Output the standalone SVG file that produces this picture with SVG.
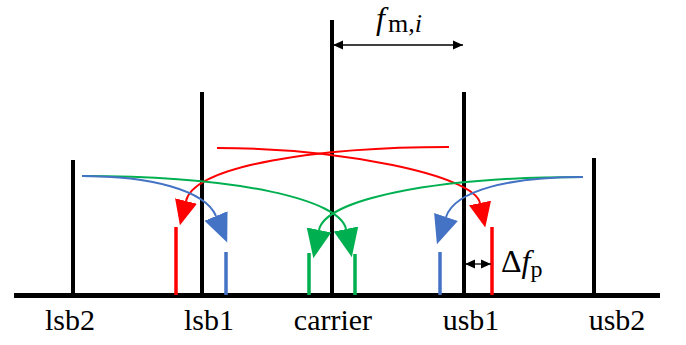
<svg xmlns="http://www.w3.org/2000/svg" width="686" height="345" viewBox="0 0 686 345">
<style>
.blk{stroke:#000;stroke-width:4;fill:none}
.red{stroke:#FF0000;fill:none}
.grn{stroke:#00B050;fill:none}
.blu{stroke:#4472C4;fill:none}
.bar{stroke-width:3.5}
.crv{stroke-width:2}
.dim{stroke:#000;stroke-width:1.3;fill:none}
.lbl{font-size:30px;fill:#000;text-anchor:middle}
.math{fill:#000}
</style>
<defs>
<marker id="ar" markerUnits="userSpaceOnUse" markerWidth="30" markerHeight="30" refX="0" refY="10" orient="auto" viewBox="0 0 24 20"><path d="M0,1 L20,10 L0,19 z" fill="#FF0000"/></marker>
<marker id="ag" markerUnits="userSpaceOnUse" markerWidth="30" markerHeight="30" refX="0" refY="10" orient="auto" viewBox="0 0 24 20"><path d="M0,0 L23,10 L0,20 z" fill="#00B050"/></marker>
<marker id="ab" markerUnits="userSpaceOnUse" markerWidth="30" markerHeight="30" refX="0" refY="10" orient="auto" viewBox="0 0 24 20"><path d="M0,0 L23,10 L0,20 z" fill="#4472C4"/></marker>
<marker id="ak" markerUnits="userSpaceOnUse" markerWidth="10" markerHeight="10" refX="9" refY="4.5" orient="auto-start-reverse" viewBox="0 0 9 9"><path d="M0,0.5 L9,4.5 L0,8.5 z" fill="#000"/></marker>
</defs>
<g id="axis"><line x1="14" y1="295.5" x2="660" y2="295.5" stroke="#000" stroke-width="5"/></g>
<g id="lsb2"><line class="blk" x1="73" y1="160" x2="73" y2="295"/><text class="lbl" x="70" y="330" font-family="Liberation Serif">lsb2</text></g>
<g id="lsb1"><line class="blk" x1="202" y1="92" x2="202" y2="295"/><text class="lbl" x="209" y="330" font-family="Liberation Serif">lsb1</text></g>
<g id="carrier"><line class="blk" x1="332" y1="20" x2="332" y2="295"/><text class="lbl" x="333" y="330" font-family="Liberation Serif">carrier</text></g>
<g id="usb1"><line class="blk" x1="464" y1="92" x2="464" y2="295"/><text class="lbl" x="471" y="330" font-family="Liberation Serif">usb1</text></g>
<g id="usb2"><line class="blk" x1="594" y1="158" x2="594" y2="295"/><text class="lbl" x="617" y="330" font-family="Liberation Serif">usb2</text></g>
<g id="shifted">
<line class="red bar" x1="176" y1="227" x2="176" y2="295"/>
<line class="blu bar" x1="226" y1="252" x2="226" y2="295"/>
<line class="grn bar" x1="309" y1="253" x2="309" y2="295"/>
<line class="grn bar" x1="355" y1="254" x2="355" y2="295"/>
<line class="blu bar" x1="440" y1="252" x2="440" y2="295"/>
<line class="red bar" x1="492" y1="227" x2="492" y2="295"/>
</g>
<g id="connectors">
<path class="red crv" d="M217,148 C340,148 474,175 480,203" marker-end="url(#ar)"/>
<path class="red crv" d="M449,147 C320,147 195,165 186,201" marker-end="url(#ar)"/>
<path class="grn crv" d="M82,176 C240,176 340,200 346,229" marker-end="url(#ag)"/>
<path class="grn crv" d="M583,177 C430,177 325,200 319,230" marker-end="url(#ag)"/>
<path class="blu crv" d="M82,176 C150,176 205,190 216,216" marker-end="url(#ab)"/>
<path class="blu crv" d="M583,177 C510,177 455,190 446,217" marker-end="url(#ab)"/>
<line class="dim" x1="333" y1="45" x2="463" y2="45" marker-start="url(#ak)" marker-end="url(#ak)"/>
<line class="dim" x1="465" y1="264" x2="491" y2="264" marker-start="url(#ak)" marker-end="url(#ak)"/>
</g>
<g id="annotations" font-family="Liberation Serif">
<text class="math" font-size="26"><tspan x="376" y="29" font-size="32" font-style="italic">f</tspan><tspan x="388" y="32">m,</tspan><tspan font-style="italic">i</tspan></text>
<text class="math" x="501" y="272" font-size="32">Δ<tspan font-style="italic">f</tspan><tspan font-size="24" y="277">p</tspan></text>
</g>
</svg>
